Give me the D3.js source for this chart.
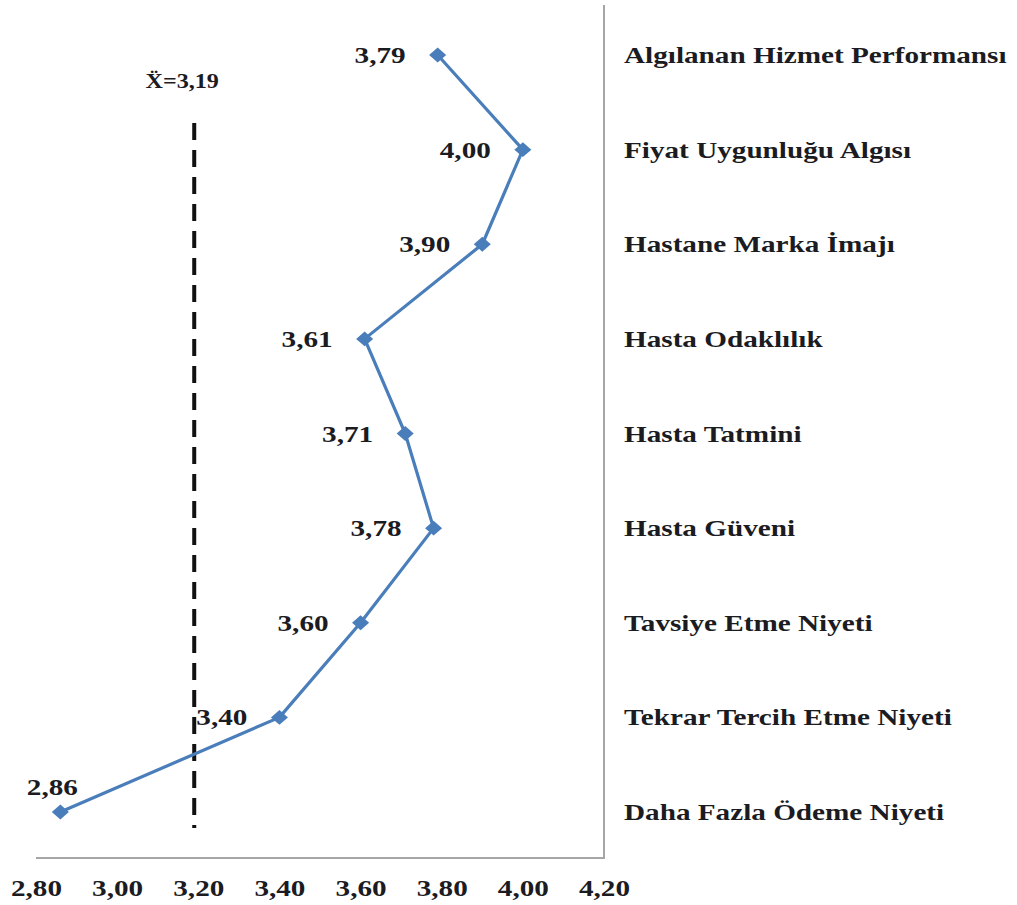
<!DOCTYPE html>
<html lang="tr">
<head>
<meta charset="utf-8">
<title>Ortalama Puanlar</title>
<script src="https://cdn.jsdelivr.net/npm/d3@7"></script>
<style>
  html, body { margin: 0; padding: 0; background: #ffffff; }
  svg { display: block; }
  text { font-family: "Liberation Serif", "Times New Roman", serif; font-weight: bold; fill: #1b1b22; }
</style>
</head>
<body>
<svg id="chart" width="1017" height="905"></svg>
<script>
// Dimension names (top to bottom) and their mean scores
const categories = [
  "Algılanan Hizmet Performansı",
  "Fiyat Uygunluğu Algısı",
  "Hastane Marka İmajı",
  "Hasta Odaklılık",
  "Hasta Tatmini",
  "Hasta Güveni",
  "Tavsiye Etme Niyeti",
  "Tekrar Tercih Etme Niyeti",
  "Daha Fazla Ödeme Niyeti"
];
const values = [3.79, 4.00, 3.90, 3.61, 3.71, 3.78, 3.60, 3.40, 2.86];
const valueLabels = ["3,79", "4,00", "3,90", "3,61", "3,71", "3,78", "3,60", "3,40", "2,86"];

// Overall mean
const meanValue = 3.19;
const meanLabel = "Ẍ=3,19";

// Horizontal axis ticks
const tickValues = [2.8, 3.0, 3.2, 3.4, 3.6, 3.8, 4.0, 4.2];
const tickLabels = ["2,80", "3,00", "3,20", "3,40", "3,60", "3,80", "4,00", "4,20"];

const svg = d3.select("#chart");
const blue = "#4a7ebb";
const stretch = 1.27;   // wide type used throughout the figure
const fontSize = "23px";

const plotLeft = 36, plotRight = 604, plotTop = 5, plotBottom = 858;

const x = d3.scaleLinear().domain([2.8, 4.2]).range([plotLeft, plotRight]);
const y = d3.scalePoint().domain(categories).range([55, 812]);

// Frame: bottom and right edges of the plot area
svg.append("line")
  .attr("x1", plotLeft).attr("x2", plotRight)
  .attr("y1", plotBottom).attr("y2", plotBottom)
  .attr("stroke", "#a6a6a6").attr("stroke-width", 2);
svg.append("line")
  .attr("x1", plotRight).attr("x2", plotRight)
  .attr("y1", plotTop).attr("y2", plotBottom + 1)
  .attr("stroke", "#a6a6a6").attr("stroke-width", 2);

// Mean reference line (dashed)
svg.append("line")
  .attr("x1", x(meanValue)).attr("x2", x(meanValue))
  .attr("y1", y(categories[0]) + 68)
  .attr("y2", y(categories[categories.length - 1]) + 16)
  .attr("stroke", "#111111").attr("stroke-width", 4)
  .attr("stroke-dasharray", "17 10");

svg.append("text")
  .attr("transform", `translate(${x(meanValue) - 12},${88}) scale(1.15,1)`)
  .attr("text-anchor", "middle")
  .style("font-size", "21px")
  .text(meanLabel);

// Horizontal axis labels
const axis = d3.axisBottom(x)
  .tickValues(tickValues)
  .tickSize(0)
  .tickPadding(0)
  .tickFormat((d, i) => tickLabels[i]);

const gAxis = svg.append("g")
  .attr("transform", `translate(0,${896})`)
  .call(axis);
gAxis.select(".domain").remove();
gAxis.selectAll("text")
  .attr("y", 0).attr("dy", 0)
  .attr("transform", `scale(${stretch},1)`)
  .attr("fill", "#1b1b22")
  .style("font-family", '"Liberation Serif", "Times New Roman", serif')
  .style("font-weight", "bold")
  .style("font-size", fontSize);

// Data line
const data = categories.map((c, i) => ({ cat: c, value: values[i], label: valueLabels[i] }));

svg.append("path")
  .datum(data)
  .attr("fill", "none")
  .attr("stroke", blue)
  .attr("stroke-width", 3.2)
  .attr("stroke-linejoin", "round")
  .attr("d", d3.line().x(d => x(d.value)).y(d => y(d.cat)));

// Diamond markers
const diamond = d3.symbol().type(d3.symbolSquare).size(110);
svg.selectAll(".marker")
  .data(data)
  .join("path")
  .attr("class", "marker")
  .attr("fill", blue)
  .attr("transform", d => `translate(${x(d.value)},${y(d.cat)}) scale(1.15,1) rotate(45)`)
  .attr("d", diamond);

// Value labels: left of the marker, or above it when there is no room on the left
svg.selectAll(".vlabel")
  .data(data)
  .join("text")
  .attr("class", "vlabel")
  .style("font-size", fontSize)
  .attr("text-anchor", d => (x(d.value) - 90 < plotLeft ? "middle" : "end"))
  .attr("transform", d => {
    const px = x(d.value), py = y(d.cat);
    if (px - 90 < plotLeft) return `translate(${px - 8},${py - 17}) scale(${stretch},1)`;
    return `translate(${px - 32},${py + 8}) scale(${stretch},1)`;
  })
  .text(d => d.label);

// Category names to the right of the plot
svg.selectAll(".clabel")
  .data(data)
  .join("text")
  .attr("class", "clabel")
  .style("font-size", fontSize)
  .attr("transform", d => `translate(${624},${y(d.cat) + 8}) scale(${stretch},1)`)
  .text(d => d.cat);
</script>
</body>
</html>
